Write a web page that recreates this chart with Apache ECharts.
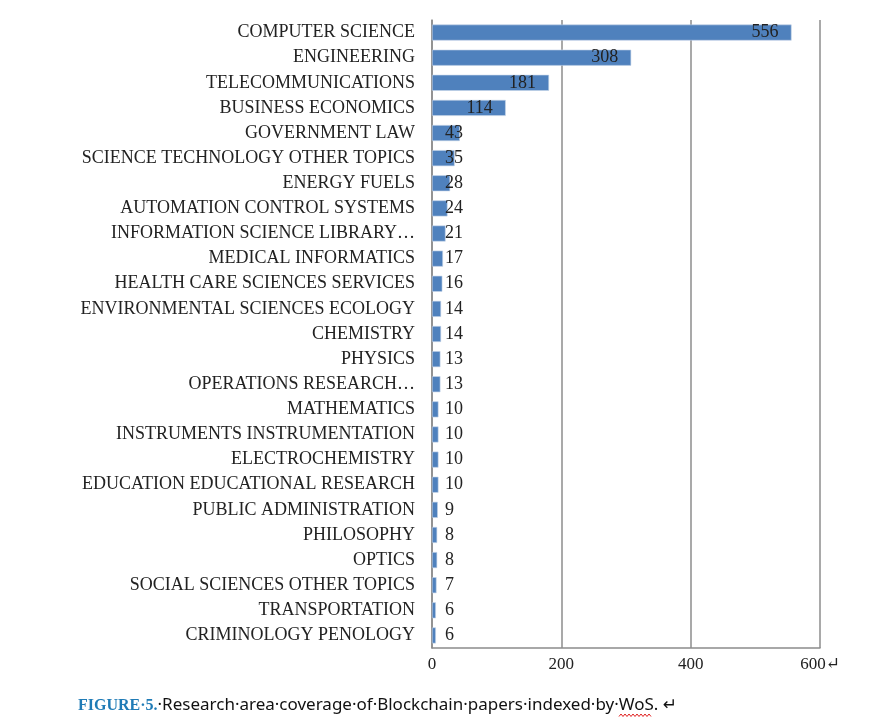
<!DOCTYPE html>
<html>
<head>
<meta charset="utf-8">
<script src="https://cdn.jsdelivr.net/npm/echarts@6/dist/echarts.min.js"></script>
<style>
html,body{margin:0;padding:0;background:#fff;}
#chart{width:878px;height:727px;}
</style>
</head>
<body>
<div id="chart"></div>
<script>
const categories = [
  "COMPUTER SCIENCE",
  "ENGINEERING",
  "TELECOMMUNICATIONS",
  "BUSINESS ECONOMICS",
  "GOVERNMENT LAW",
  "SCIENCE TECHNOLOGY OTHER TOPICS",
  "ENERGY FUELS",
  "AUTOMATION CONTROL SYSTEMS",
  "INFORMATION SCIENCE LIBRARY…",
  "MEDICAL INFORMATICS",
  "HEALTH CARE SCIENCES SERVICES",
  "ENVIRONMENTAL SCIENCES ECOLOGY",
  "CHEMISTRY",
  "PHYSICS",
  "OPERATIONS RESEARCH…",
  "MATHEMATICS",
  "INSTRUMENTS INSTRUMENTATION",
  "ELECTROCHEMISTRY",
  "EDUCATION EDUCATIONAL RESEARCH",
  "PUBLIC ADMINISTRATION",
  "PHILOSOPHY",
  "OPTICS",
  "SOCIAL SCIENCES OTHER TOPICS",
  "TRANSPORTATION",
  "CRIMINOLOGY PENOLOGY"
];
const values = [556, 308, 181, 114, 43, 35, 28, 24, 21, 17, 16, 14, 14, 13, 13, 10, 10, 10, 10, 9, 8, 8, 7, 6, 6];
const xTickLabels = {0: "0", 200: "200", 400: "400", 600: "600\u21B5"};
const captionBold = "FIGURE\u00B75.";
const captionText = "\u00B7Research\u00B7area\u00B7coverage\u00B7of\u00B7Blockchain\u00B7papers\u00B7indexed\u00B7by\u00B7WoS.\u00A0\u21B5";

const serif = "'Liberation Serif', 'DejaVu Serif', serif";
const chart = echarts.init(document.getElementById('chart'));

const barData = values.map(v => ({
  value: v,
  label: v >= 100
    ? {position: 'insideRight', distance: 13}
    : {position: 'insideLeft', distance: 5, offset: [8, 0]}
}));

// decorative spell-check squiggle under "WoS"
const squiggle = [];
for (let i = 0; i <= 16; i++) squiggle.push([619 + i * 2, i % 2 ? 714 : 716.5]);

chart.setOption({
  animation: false,
  backgroundColor: '#fff',
  grid: {left: 432, right: 58, top: 20, bottom: 79, containLabel: false},
  xAxis: {
    type: 'value',
    min: 0, max: 600, interval: 200,
    axisLine: {show: true, lineStyle: {color: '#8c8c8c', width: 1.5}},
    axisTick: {show: false},
    splitLine: {show: true, lineStyle: {color: '#8c8c8c', width: 1.5}},
    axisLabel: {
      color: '#222', fontFamily: serif, fontSize: 17, margin: 8,
      formatter: v => xTickLabels[v] !== undefined ? xTickLabels[v] : String(v)
    }
  },
  yAxis: {
    type: 'category',
    inverse: true,
    data: categories,
    axisLine: {show: true, lineStyle: {color: '#8c8c8c', width: 1.5}},
    axisTick: {show: false},
    axisLabel: {color: '#222', fontFamily: serif, fontSize: 18, margin: 17}
  },
  series: [{
    type: 'bar',
    data: barData,
    barWidth: 16,
    itemStyle: {color: '#4f81bd', borderColor: '#c5d4e8', borderWidth: 0.6},
    label: {show: true, color: '#222', fontFamily: serif, fontSize: 18}
  }],
  graphic: [{
    type: 'text',
    left: 78, top: 697,
    style: {
      rich: {
        b: {fontFamily: serif, fontWeight: 'bold', fontSize: 16, fill: '#1f7bb6'},
        t: {fontFamily: "'Noto Sans', 'DejaVu Sans', sans-serif", fontSize: 17, fill: '#111'}
      },
      text: '{b|' + captionBold + '}{t|' + captionText + '}'
    }
  }, {
    type: 'polyline',
    shape: {points: squiggle},
    style: {stroke: '#e02020', lineWidth: 1, fill: null}
  }]
});
</script>
</body>
</html>
